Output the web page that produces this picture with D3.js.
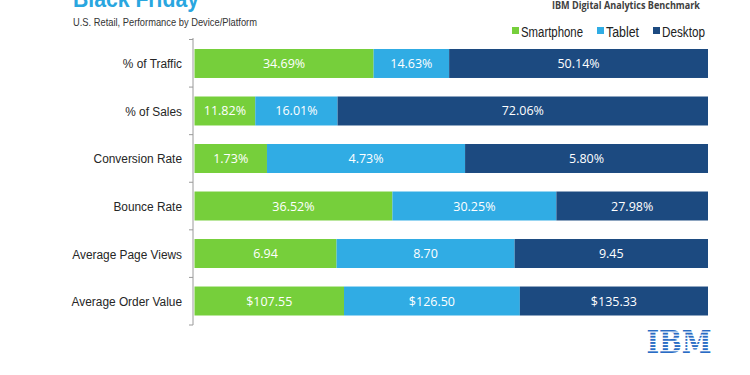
<!DOCTYPE html>
<html><head><meta charset="utf-8">
<script src="https://cdn.jsdelivr.net/npm/d3@7"></script>
<style>body{margin:0;background:#fff}svg{display:block}</style>
</head><body>
<script>
const categories = ["% of Traffic","% of Sales","Conversion Rate","Bounce Rate","Average Page Views","Average Order Value"];
const seriesNames = ["Smartphone","Tablet","Desktop"];
const smartphone = [34.69, 11.82, 1.73, 36.52, 6.94, 107.55];
const tablet     = [14.63, 16.01, 4.73, 30.25, 8.70, 126.50];
const desktop    = [50.14, 72.06, 5.80, 27.98, 9.45, 135.33];
const labelFormats = ["pct","pct","pct","pct","num","usd"];
const colors = ["#76cf3b","#30ace4","#1c4a80"];

const W = 750, H = 375;
const svg = d3.select("body").append("svg").attr("width", W).attr("height", H);

const series = [smartphone, tablet, desktop];
const rows = categories.map((c, i) => {
  const vals = series.map(s => s[i]);
  const total = d3.sum(vals);
  let acc = 0;
  return vals.map((v, k) => { const d = {cat: c, k, v, fmt: labelFormats[i], x0: acc / total, x1: (acc + v) / total}; acc += v; return d; });
});

const x = d3.scaleLinear().domain([0, 1]).range([194.5, 708]);
const y = d3.scaleBand().domain(categories).range([39.5, 325]).paddingInner(0.39).paddingOuter(0.2);

const fmt = (v, f) => f === "pct" ? v.toFixed(2) + "%" : f === "usd" ? "$" + v.toFixed(2) : v.toFixed(2);

const g = svg.append("g");
rows.forEach(r => {
  g.selectAll(null).data(r).enter().append("rect")
    .attr("x", d => x(d.x0)).attr("width", d => x(d.x1) - x(d.x0))
    .attr("y", d => y(d.cat)).attr("height", y.bandwidth())
    .attr("fill", d => colors[d.k]);
  g.selectAll(null).data(r).enter().append("text")
    .attr("x", d => (x(d.x0) + x(d.x1)) / 2)
    .attr("y", d => y(d.cat) + y.bandwidth() / 2 + 4.5)
    .attr("text-anchor", "middle")
    .attr("font-family", "'Open Sans', sans-serif").attr("font-size", 12.5)
    .attr("fill", "#fff")
    .text(d => fmt(d.v, d.fmt));
});

// Y axis
const ax = svg.append("g");
ax.append("line").attr("x1", 193).attr("x2", 193).attr("y1", 38).attr("y2", 325).attr("stroke", "#9a9a9a");
d3.range(categories.length + 1).forEach(i => {
  const yy = 39.5 + i * (325 - 39.5) / categories.length;
  ax.append("line").attr("x1", 189).attr("x2", 193).attr("y1", yy).attr("y2", yy).attr("stroke", "#9a9a9a");
});
svg.append("g").selectAll("text").data(categories).enter().append("text")
  .attr("transform", d => `translate(182,${y(d) + y.bandwidth() / 2 + 5}) scale(0.88,1)`)
  .attr("text-anchor", "end")
  .attr("font-family", "'Liberation Sans', Arial, sans-serif").attr("font-size", 13.5)
  .attr("fill", "#262626")
  .text(d => d);

// Titles
svg.append("text").attr("x", 73).attr("y", 7)
  .attr("font-family", "'Liberation Sans', Arial, sans-serif").attr("font-weight", "bold").attr("font-size", 24)
  .attr("fill", "#29a6df").attr("textLength", 126).attr("lengthAdjust", "spacingAndGlyphs").text("Black Friday");
svg.append("text").attr("x", 73).attr("y", 26)
  .attr("font-family", "'Liberation Sans', Arial, sans-serif").attr("font-size", 11)
  .attr("fill", "#333").attr("textLength", 184).attr("lengthAdjust", "spacingAndGlyphs")
  .text("U.S. Retail, Performance by Device/Platform");
svg.append("text").attr("x", 700).attr("y", 9)
  .attr("text-anchor", "end")
  .attr("font-family", "'Open Sans', sans-serif").attr("font-weight", "bold").attr("font-size", 10)
  .attr("fill", "#404040").attr("textLength", 148).attr("lengthAdjust", "spacingAndGlyphs")
  .text("IBM Digital Analytics Benchmark");

// Legend
const legendX = [512, 597, 653];
const legendW = [62, 33, 43];
const lg = svg.append("g");
seriesNames.forEach((n, i) => {
  lg.append("rect").attr("x", legendX[i]).attr("y", 27).attr("width", 7).attr("height", 7).attr("fill", colors[i]);
  lg.append("text").attr("x", legendX[i] + 9).attr("y", 36.5)
    .attr("font-family", "'Liberation Sans', Arial, sans-serif").attr("font-size", 14)
    .attr("fill", "#222").attr("textLength", legendW[i]).attr("lengthAdjust", "spacingAndGlyphs").text(n);
});

// IBM logo
const logo = svg.append("g");
logo.append("text").attr("x", 679).attr("y", 353).attr("text-anchor", "middle")
  .attr("font-family", "'DejaVu Serif', serif").attr("font-weight", "bold").attr("font-size", 32)
  .attr("fill", "#2a6cc4").attr("textLength", 65).attr("lengthAdjust", "spacingAndGlyphs").text("IBM");
d3.range(7).forEach(i => {
  logo.append("rect").attr("x", 640).attr("y", 331.5 + i * 3.1).attr("width", 80).attr("height", 1.2).attr("fill", "#fff");
});
</script>
</body></html>
